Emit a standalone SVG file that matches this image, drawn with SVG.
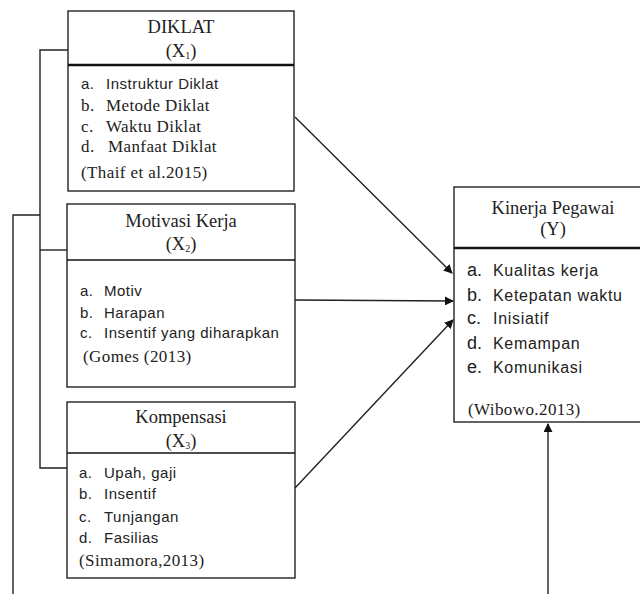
<svg xmlns="http://www.w3.org/2000/svg" width="640" height="594" viewBox="0 0 640 594">
<style>
.box{fill:#fff;stroke:#222;stroke-width:1.4}
.div{stroke:#111;stroke-width:1.4}
.divb{stroke:#111;stroke-width:2.6}
.ttl{font-family:"Liberation Serif","Times New Roman",serif;font-size:18.5px;fill:#222;text-anchor:middle}
.sub{font-size:10px}
.s{font-family:"Liberation Sans",Arial,sans-serif;font-size:15px;letter-spacing:0.5px;fill:#222}
.k{font-family:"Liberation Sans",Arial,sans-serif;font-size:16px;letter-spacing:0.7px;fill:#222}
.ka{font-family:"Liberation Sans",Arial,sans-serif;font-size:18px;fill:#222}
.r{font-family:"Liberation Serif","Times New Roman",serif;font-size:17px;letter-spacing:0.4px;fill:#222}
.ln{fill:none;stroke:#222;stroke-width:1.4}
.ar{fill:none;stroke:#222;stroke-width:1.4;marker-end:url(#ah)}
</style>
<defs>
<marker id="ah" viewBox="0 0 10 10" refX="9" refY="5" markerWidth="9" markerHeight="9" markerUnits="userSpaceOnUse" orient="auto">
<path d="M0,0 L10,5 L0,10 z" fill="#111"/>
</marker>
</defs>
<rect width="640" height="594" fill="#fff"/>
<g id="connectors">
<polyline class="ln" points="68,50 40,50 40,468 67,468"/>
<line class="ln" x1="40" y1="250" x2="67" y2="250"/>
<polyline class="ln" points="40,215 13,215 13,594"/>
<line class="ar" x1="295" y1="117" x2="452" y2="273"/>
<line class="ar" x1="295" y1="300" x2="453" y2="301"/>
<line class="ar" x1="295" y1="488" x2="453" y2="320"/>
<line class="ar" x1="548" y1="594" x2="548" y2="424"/>
</g>
<g id="diklat">
<rect class="box" x="68" y="11" width="226" height="180"/>
<line class="divb" x1="68" y1="65" x2="294" y2="65"/>
<text class="ttl" x="181" y="33">DIKLAT</text>
<text class="ttl" x="181" y="57">(X<tspan class="sub" dy="2">1</tspan><tspan dy="-2">)</tspan></text>
<text class="s" x="81" y="89">a.</text><text class="s" x="106" y="89">Instruktur Diklat</text>
<text class="r" x="81" y="111">b.</text><text class="r" x="106" y="111">Metode Diklat</text>
<text class="r" x="81" y="132">c.</text><text class="r" x="106" y="132">Waktu Diklat</text>
<text class="r" x="81" y="152">d.</text><text class="r" x="108" y="152">Manfaat Diklat</text>
<text class="r" x="81" y="178">(Thaif et al.2015)</text>
</g>
<g id="motivasi">
<rect class="box" x="67" y="204" width="228" height="183"/>
<line class="div" x1="67" y1="260" x2="295" y2="260"/>
<text class="ttl" x="181" y="227">Motivasi Kerja</text>
<text class="ttl" x="181" y="250">(X<tspan class="sub" dy="2">2</tspan><tspan dy="-2">)</tspan></text>
<text class="s" x="80" y="296">a.</text><text class="s" x="104" y="296">Motiv</text>
<text class="s" x="80" y="318">b.</text><text class="s" x="104" y="318">Harapan</text>
<text class="s" x="80" y="338">c.</text><text class="s" x="104" y="338">Insentif yang diharapkan</text>
<text class="r" x="83" y="362">(Gomes (2013)</text>
</g>
<g id="kompensasi">
<rect class="box" x="67" y="402" width="228" height="176"/>
<line class="div" x1="67" y1="453" x2="295" y2="453"/>
<text class="ttl" x="181" y="423">Kompensasi</text>
<text class="ttl" x="181" y="447">(X<tspan class="sub" dy="2">3</tspan><tspan dy="-2">)</tspan></text>
<text class="s" x="79" y="478">a.</text><text class="s" x="104" y="478">Upah, gaji</text>
<text class="s" x="79" y="499">b.</text><text class="s" x="104" y="499">Insentif</text>
<text class="s" x="79" y="522">c.</text><text class="s" x="104" y="522">Tunjangan</text>
<text class="s" x="79" y="543">d.</text><text class="s" x="104" y="543">Fasilias</text>
<text class="r" x="79" y="566">(Simamora,2013)</text>
</g>
<g id="kinerja">
<rect class="box" x="454" y="187" width="200" height="235"/>
<line class="divb" x1="454" y1="248" x2="640" y2="248"/>
<text class="ttl" x="553" y="214">Kinerja Pegawai</text>
<text class="ttl" x="553" y="235">(Y)</text>
<text class="ka" x="467" y="276">a.</text><text class="k" x="493" y="276">Kualitas kerja</text>
<text class="ka" x="467" y="301">b.</text><text class="k" x="493" y="301">Ketepatan waktu</text>
<text class="ka" x="467" y="324">c.</text><text class="k" x="493" y="324">Inisiatif</text>
<text class="ka" x="467" y="349">d.</text><text class="k" x="493" y="349">Kemampan</text>
<text class="ka" x="467" y="373">e.</text><text class="k" x="493" y="373">Komunikasi</text>
<text class="r" x="468" y="415">(Wibowo.2013)</text>
</g>
</svg>
